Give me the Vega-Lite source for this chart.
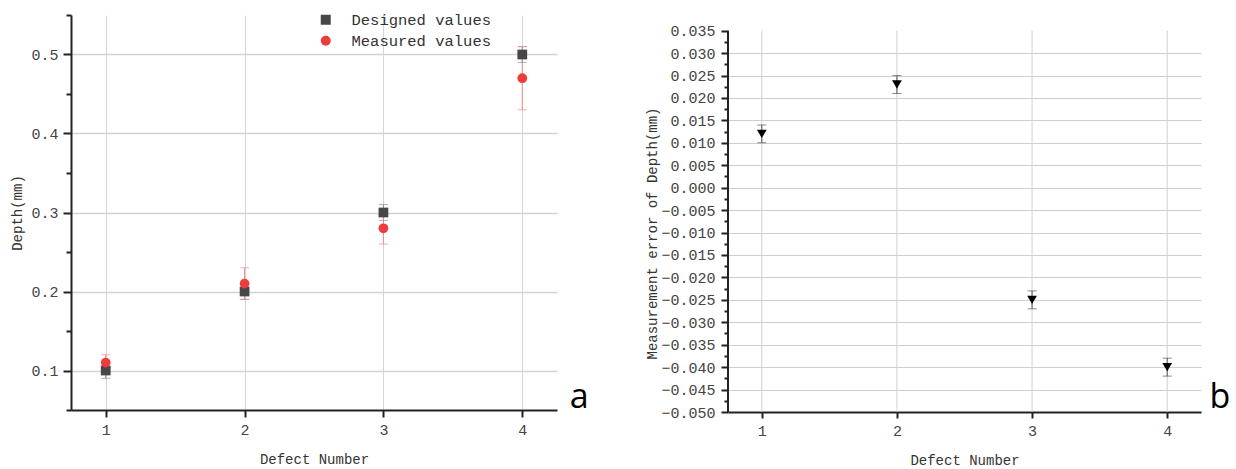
{
  "$schema": "https://vega.github.io/schema/vega-lite/v6.json",
  "background": "white",
  "padding": {"left": 10, "top": 8, "right": 5, "bottom": 5},
  "spacing": 56,
  "config": {
    "font": "Liberation Mono",
    "view": {"stroke": null},
    "axis": {
      "labelFont": "Liberation Mono",
      "titleFont": "Liberation Mono",
      "titleFontWeight": "normal",
      "labelColor": "#444",
      "titleColor": "#333",
      "domainColor": "#222",
      "domainWidth": 2,
      "tickColor": "#222",
      "tickWidth": 2,
      "labelFontSize": 15,
      "titleFontSize": 14,
      "labelOverlap": false,
      "tickCount": 100
    },
    "legend": {"labelFont": "Liberation Mono"}
  },
  "hconcat": [
    {
      "width": 486,
      "height": 395,
      "data": {"values": [
        {"defect": 1, "series": "Designed values", "value": 0.1, "lo": 0.09, "hi": 0.11},
        {"defect": 2, "series": "Designed values", "value": 0.2, "lo": 0.19, "hi": 0.21},
        {"defect": 3, "series": "Designed values", "value": 0.3, "lo": 0.29, "hi": 0.31},
        {"defect": 4, "series": "Designed values", "value": 0.5, "lo": 0.49, "hi": 0.51},
        {"defect": 1, "series": "Measured values", "value": 0.11, "lo": 0.10, "hi": 0.12},
        {"defect": 2, "series": "Measured values", "value": 0.21, "lo": 0.19, "hi": 0.23},
        {"defect": 3, "series": "Measured values", "value": 0.28, "lo": 0.26, "hi": 0.30},
        {"defect": 4, "series": "Measured values", "value": 0.47, "lo": 0.43, "hi": 0.51}
      ]},
      "layer": [
        {
          "transform": [{"filter": "datum.series === 'Designed values'"}],
          "mark": {"type": "rule", "strokeWidth": 1, "color": "#8c8c8c"},
          "encoding": {
            "x": {"field": "defect", "type": "quantitative",
              "scale": {"domain": [0.75, 4.25], "nice": false, "zero": false},
              "axis": {
                "title": "Defect Number",
                "values": [1, 1.5, 2, 2.5, 3, 3.5, 4],
                "tickCount": 100,
                "format": "d",
                "labelExpr": "datum.value % 1 === 0 ? datum.label : ''",
                "tickSize": {"condition": {"test": "datum.value % 1 !== 0", "value": 5}, "value": 7},
                "grid": true,
                "gridColor": "#d6d6d6",
                "gridWidth": 1,
                "gridOpacity": {"condition": {"test": "datum.value % 1 !== 0", "value": 0}, "value": 1},
                "labelPadding": 5,
                "titlePadding": 15
              }},
            "y": {"field": "lo", "type": "quantitative",
              "scale": {"domain": [0.05, 0.55], "nice": false, "zero": false},
              "axis": {
                "title": "Depth(mm)",
                "values": [0.05, 0.1, 0.15, 0.2, 0.25, 0.3, 0.35, 0.4, 0.45, 0.5, 0.55],
                "tickCount": 100,
                "labelExpr": "round(datum.value*20) % 2 === 0 ? format(datum.value, '.1f') : ''",
                "tickSize": {"condition": {"test": "round(datum.value*20) % 2 !== 0", "value": 5}, "value": 8},
                "grid": true,
                "gridColor": "#d2d2d2",
                "gridWidth": 1.5,
                "gridOpacity": {"condition": {"test": "round(datum.value*20) % 2 !== 0", "value": 0}, "value": 1},
                "labelPadding": 5,
                "titlePadding": 6
              }},
            "y2": {"field": "hi"}
          }
        },
        {
          "transform": [{"filter": "datum.series === 'Measured values'"}],
          "mark": {"type": "rule", "strokeWidth": 1, "color": "#f08a8a"},
          "encoding": {
            "x": {"field": "defect", "type": "quantitative"},
            "y": {"field": "lo", "type": "quantitative"},
            "y2": {"field": "hi"}
          }
        },
        {
          "transform": [{"filter": "datum.series === 'Designed values'"}],
          "mark": {"type": "tick", "orient": "horizontal", "size": 9, "thickness": 1, "color": "#8c8c8c"},
          "encoding": {
            "x": {"field": "defect", "type": "quantitative"},
            "y": {"field": "lo", "type": "quantitative"}
          }
        },
        {
          "transform": [{"filter": "datum.series === 'Designed values'"}],
          "mark": {"type": "tick", "orient": "horizontal", "size": 9, "thickness": 1, "color": "#8c8c8c"},
          "encoding": {
            "x": {"field": "defect", "type": "quantitative"},
            "y": {"field": "hi", "type": "quantitative"}
          }
        },
        {
          "transform": [{"filter": "datum.series === 'Measured values'"}],
          "mark": {"type": "tick", "orient": "horizontal", "size": 9, "thickness": 1, "color": "#f08a8a"},
          "encoding": {
            "x": {"field": "defect", "type": "quantitative"},
            "y": {"field": "lo", "type": "quantitative"}
          }
        },
        {
          "transform": [{"filter": "datum.series === 'Measured values'"}],
          "mark": {"type": "tick", "orient": "horizontal", "size": 9, "thickness": 1, "color": "#f08a8a"},
          "encoding": {
            "x": {"field": "defect", "type": "quantitative"},
            "y": {"field": "hi", "type": "quantitative"}
          }
        },
        {
          "mark": {"type": "point", "filled": true, "opacity": 1, "size": 95},
          "encoding": {
            "x": {"field": "defect", "type": "quantitative"},
            "y": {"field": "value", "type": "quantitative"},
            "color": {"field": "series", "type": "nominal",
              "scale": {"domain": ["Designed values", "Measured values"], "range": ["#474747", "#ee3b3b"]},
              "legend": {"orient": "none", "legendX": 247, "legendY": -3, "title": null,
                "labelFontSize": 15.5, "labelColor": "#333", "symbolSize": 100, "labelOffset": 18,
                "rowPadding": 4, "padding": 0}},
            "shape": {"field": "series", "type": "nominal",
              "scale": {"domain": ["Designed values", "Measured values"], "range": ["square", "circle"]},
              "legend": {"orient": "none", "legendX": 247, "legendY": -3, "title": null,
                "labelFontSize": 15.5, "labelColor": "#333", "symbolSize": 100, "labelOffset": 18,
                "rowPadding": 4, "padding": 0}}
          }
        },
        {
          "data": {"values": [{"label": "a", "x": 4.41, "y": 0.053}]},
          "mark": {"type": "text", "font": "Open Sans", "fontSize": 34, "align": "center", "baseline": "alphabetic", "color": "#000"},
          "encoding": {
            "x": {"field": "x", "type": "quantitative"},
            "y": {"field": "y", "type": "quantitative"},
            "text": {"field": "label"}
          }
        }
      ]
    },
    {
      "width": 473,
      "height": 397,
      "data": {"values": [
        {"defect": 1, "error": 0.012, "lo": 0.010, "hi": 0.014},
        {"defect": 2, "error": 0.023, "lo": 0.021, "hi": 0.025},
        {"defect": 3, "error": -0.025, "lo": -0.027, "hi": -0.023},
        {"defect": 4, "error": -0.040, "lo": -0.042, "hi": -0.038}
      ]},
      "layer": [
        {
          "data": {"values": [{"g": 1}, {"g": 2}, {"g": 3}, {"g": 4}]},
          "mark": {"type": "rule", "strokeWidth": 1, "color": "#cfcfcf"},
          "encoding": {
            "x": {"field": "g", "type": "quantitative"},
            "y": {"datum": -0.05},
            "y2": {"datum": 0.035}
          }
        },
        {
          "mark": {"type": "rule", "strokeWidth": 1, "color": "#555"},
          "encoding": {
            "x": {"field": "defect", "type": "quantitative",
              "scale": {"domain": [0.75, 4.25], "nice": false, "zero": false},
              "axis": {
                "title": "Defect Number",
                "values": [1, 1.5, 2, 2.5, 3, 3.5, 4],
                "tickCount": 100,
                "format": "d",
                "labelExpr": "datum.value % 1 === 0 ? datum.label : ''",
                "tickSize": {"condition": {"test": "datum.value % 1 !== 0", "value": 5}, "value": 6},
                "grid": false,
                "labelPadding": 5,
                "titlePadding": 15
              }},
            "y": {"field": "lo", "type": "quantitative",
              "scale": {"domain": [-0.05, 0.0385], "nice": false, "zero": false},
              "axis": {
                "title": "Measurement error of Depth(mm)",
                "values": [-0.05, -0.0475, -0.045, -0.0425, -0.04, -0.0375, -0.035, -0.0325, -0.03, -0.0275, -0.025, -0.0225, -0.02, -0.0175, -0.015, -0.0125, -0.01, -0.0075, -0.005, -0.0025, 0, 0.0025, 0.005, 0.0075, 0.01, 0.0125, 0.015, 0.0175, 0.02, 0.0225, 0.025, 0.0275, 0.03, 0.0325, 0.035],
                "tickCount": 100,
                "domain": false,
                "labelExpr": "abs(round(datum.value*400)) % 2 === 0 ? format(datum.value, '.3f') : ''",
                "tickSize": {"condition": {"test": "abs(round(datum.value*400)) % 2 !== 0", "value": 4}, "value": 7},
                "grid": true,
                "gridColor": "#cfcfcf",
                "gridWidth": 1,
                "gridOpacity": {"condition": {"test": "abs(round(datum.value*400)) % 2 !== 0 || datum.value > 0.034", "value": 0}, "value": 1},
                "labelPadding": 6,
                "titlePadding": 1,
                "titleY": 218
              }},
            "y2": {"field": "hi"}
          }
        },
        {
          "mark": {"type": "tick", "orient": "horizontal", "size": 9, "thickness": 1, "color": "#555"},
          "encoding": {
            "x": {"field": "defect", "type": "quantitative"},
            "y": {"field": "lo", "type": "quantitative"}
          }
        },
        {
          "mark": {"type": "tick", "orient": "horizontal", "size": 9, "thickness": 1, "color": "#555"},
          "encoding": {
            "x": {"field": "defect", "type": "quantitative"},
            "y": {"field": "hi", "type": "quantitative"}
          }
        },
        {
          "mark": {"type": "point", "shape": "triangle-down", "filled": true, "opacity": 1, "size": 95, "color": "#000"},
          "encoding": {
            "x": {"field": "defect", "type": "quantitative"},
            "y": {"field": "error", "type": "quantitative"}
          }
        },
        {
          "data": {"values": [{"edge": 0.75}]},
          "mark": {"type": "rule", "strokeWidth": 2, "color": "#222"},
          "encoding": {
            "x": {"field": "edge", "type": "quantitative"},
            "y": {"datum": -0.05},
            "y2": {"datum": 0.035}
          }
        },
        {
          "data": {"values": [{"label": "b", "x": 4.39, "y": -0.049}]},
          "mark": {"type": "text", "font": "Open Sans", "fontSize": 34, "align": "center", "baseline": "alphabetic", "color": "#000"},
          "encoding": {
            "x": {"field": "x", "type": "quantitative"},
            "y": {"field": "y", "type": "quantitative"},
            "text": {"field": "label"}
          }
        }
      ]
    }
  ]
}
